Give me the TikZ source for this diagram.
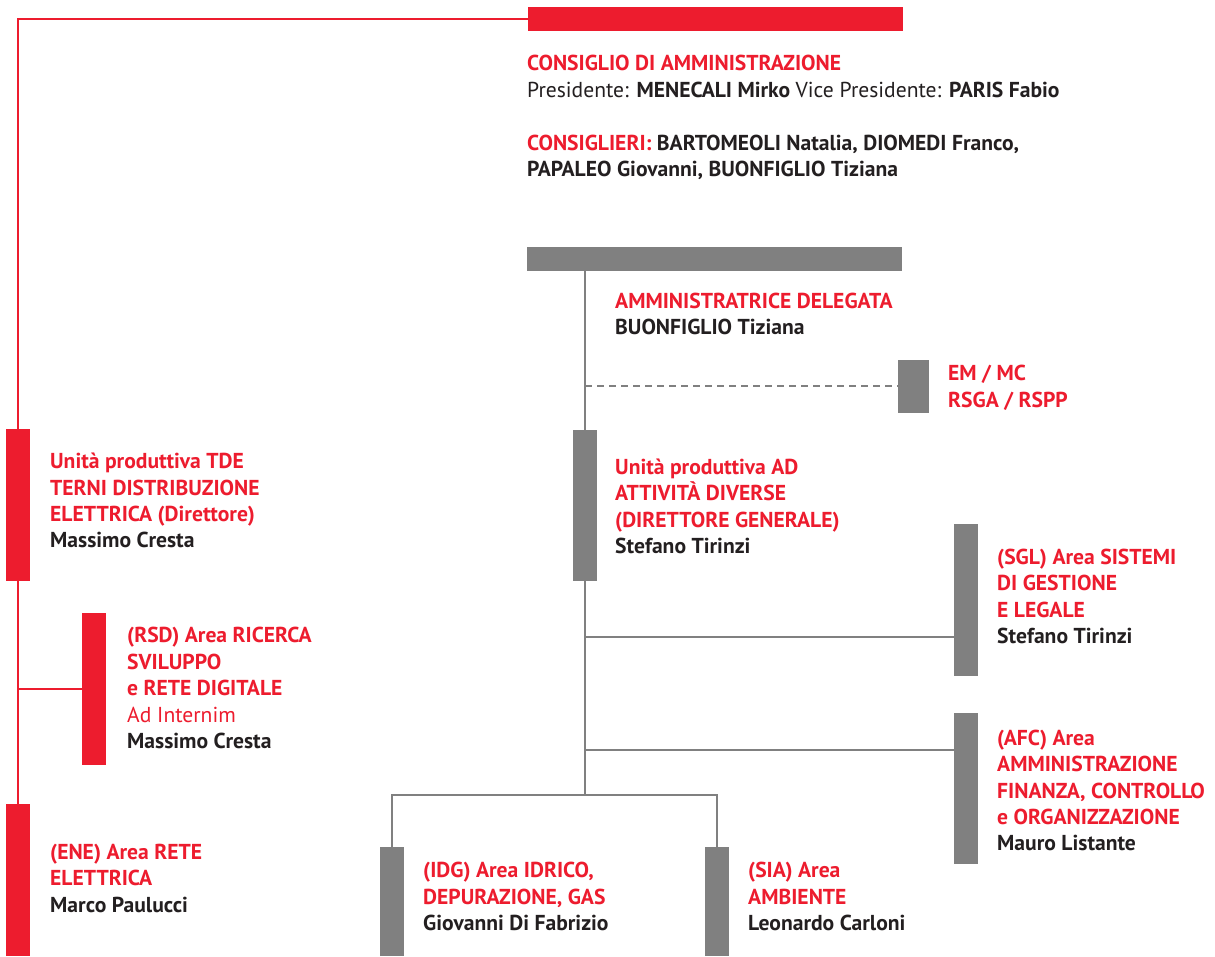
\documentclass[tikz,border=0pt]{standalone}
\usepackage{fontspec}
\setmainfont{PT Sans}
\usetikzlibrary{calc}
\definecolor{orgred}{HTML}{ED1C2E}
\definecolor{orggray}{HTML}{808080}
\definecolor{orgtext}{HTML}{231F20}
\newcommand\mystrut{\rule{0pt}{16pt}}
\newcommand\rd[1]{\textcolor{orgred}{#1}}
\tikzset{
  redbar/.style={fill=orgred, draw=none, inner sep=0pt, minimum width=24pt},
  graybar/.style={fill=orggray, draw=none, inner sep=0pt, minimum width=24pt},
  redline/.style={draw=orgred, line width=2.3pt},
  grayline/.style={draw=orggray, line width=2.3pt},
  dashline/.style={draw=orggray, line width=2.3pt, dash pattern=on 7pt off 5pt},
  lbl/.style={anchor=north west, inner sep=0pt, align=left, text=orgtext,
    font=\fontsize{21.6}{26.4}\selectfont\bfseries},
}
\begin{document}
\begin{tikzpicture}[x=1pt,y=-1pt]
\useasboundingbox[fill=white] (0,0) rectangle (1215,956);

% bars
\node[redbar, minimum width=375pt, minimum height=24pt] (cda) at (715.5,18.7) {};
\node[graybar, minimum width=375pt, minimum height=24pt] (adbar) at (714.5,258.7) {};
\node[graybar, minimum width=31pt, minimum height=52.7pt] (em) at (913.5,386.3) {};
\node[graybar, minimum height=151pt] (ad) at (585,505.5) {};
\node[graybar, minimum height=151.7pt] (sgl) at (966,599.8) {};
\node[graybar, minimum height=151.7pt] (afc) at (966,788.5) {};
\node[graybar, minimum height=109pt] (idg) at (392,901.5) {};
\node[graybar, minimum height=109pt] (sia) at (717,901.5) {};
\node[redbar, minimum height=152pt] (tde) at (18,505) {};
\node[redbar, minimum height=152pt] (rsd) at (94,689) {};
\node[redbar, minimum height=152pt] (ene) at (18,880) {};
\coordinate (split) at (585,795);

% connectors
\draw[redline] (cda.west) -| (ene.north);
\draw[redline] (rsd.west -| ene.north) -- (rsd.west);
\draw[grayline] (ad.north |- adbar.south) -- (ad.north);
\draw[dashline] (ad.north |- em.west) -- (em.west);
\draw[grayline] (ad.south) -- (split);
\draw[grayline] ([yshift=-37pt]sgl.west -| split) -- ([yshift=-37pt]sgl.west);
\draw[grayline] ([yshift=38.5pt]afc.west -| split) -- ([yshift=38.5pt]afc.west);
\draw[grayline] (idg.north) |- (split) -| (sia.north);

% texts
\node[lbl] (tcda1) at (527,54.7) {\mystrut\rd{CONSIGLIO DI AMMINISTRAZIONE}\\
  \mdseries Presidente: \bfseries MENECALI Mirko \mdseries Vice Presidente: \bfseries PARIS Fabio};
\node[lbl] (tcda2) at (527,134) {\mystrut\rd{CONSIGLIERI:} BARTOMEOLI Natalia, DIOMEDI Franco,\\
  PAPALEO Giovanni, BUONFIGLIO Tiziana};
\node[lbl] (tad) at (615,292) {\mystrut\rd{AMMINISTRATRICE DELEGATA}\\BUONFIGLIO Tiziana};
\node[lbl, text=orgred] (tem) at (948,364.5) {\mystrut EM / MC\\RSGA / RSPP};
\node[lbl] (tunit) at (615,458) {\mystrut\rd{Unità produttiva AD}\\\rd{ATTIVITÀ DIVERSE}\\\rd{(DIRETTORE GENERALE)}\\Stefano Tirinzi};
\node[lbl] (tsgl) at (997,548) {\mystrut\rd{(SGL) Area SISTEMI}\\\rd{DI GESTIONE}\\\rd{E LEGALE}\\Stefano Tirinzi};
\node[lbl] (tafc) at (997,729) {\mystrut\rd{(AFC) Area}\\\rd{AMMINISTRAZIONE}\\\rd{FINANZA, CONTROLLO}\\\rd{e ORGANIZZAZIONE}\\Mauro Listante};
\node[lbl] (tidg) at (423,861.7) {\mystrut\rd{(IDG) Area IDRICO,}\\\rd{DEPURAZIONE, GAS}\\Giovanni Di Fabrizio};
\node[lbl] (tsia) at (748,861.7) {\mystrut\rd{(SIA) Area}\\\rd{AMBIENTE}\\Leonardo Carloni};
\node[lbl] (ttde) at (50,452.5) {\mystrut\rd{Unità produttiva TDE}\\\rd{TERNI DISTRIBUZIONE}\\\rd{ELETTRICA (Direttore)}\\Massimo Cresta};
\node[lbl] (trsd) at (127,626.7) {\mystrut\rd{(RSD) Area RICERCA}\\\rd{SVILUPPO}\\\rd{e RETE DIGITALE}\\\rd{\mdseries Ad Internim}\\Massimo Cresta};
\node[lbl] (tene) at (50,843) {\mystrut\rd{(ENE) Area RETE}\\\rd{ELETTRICA}\\Marco Paulucci};
\end{tikzpicture}
\end{document}
